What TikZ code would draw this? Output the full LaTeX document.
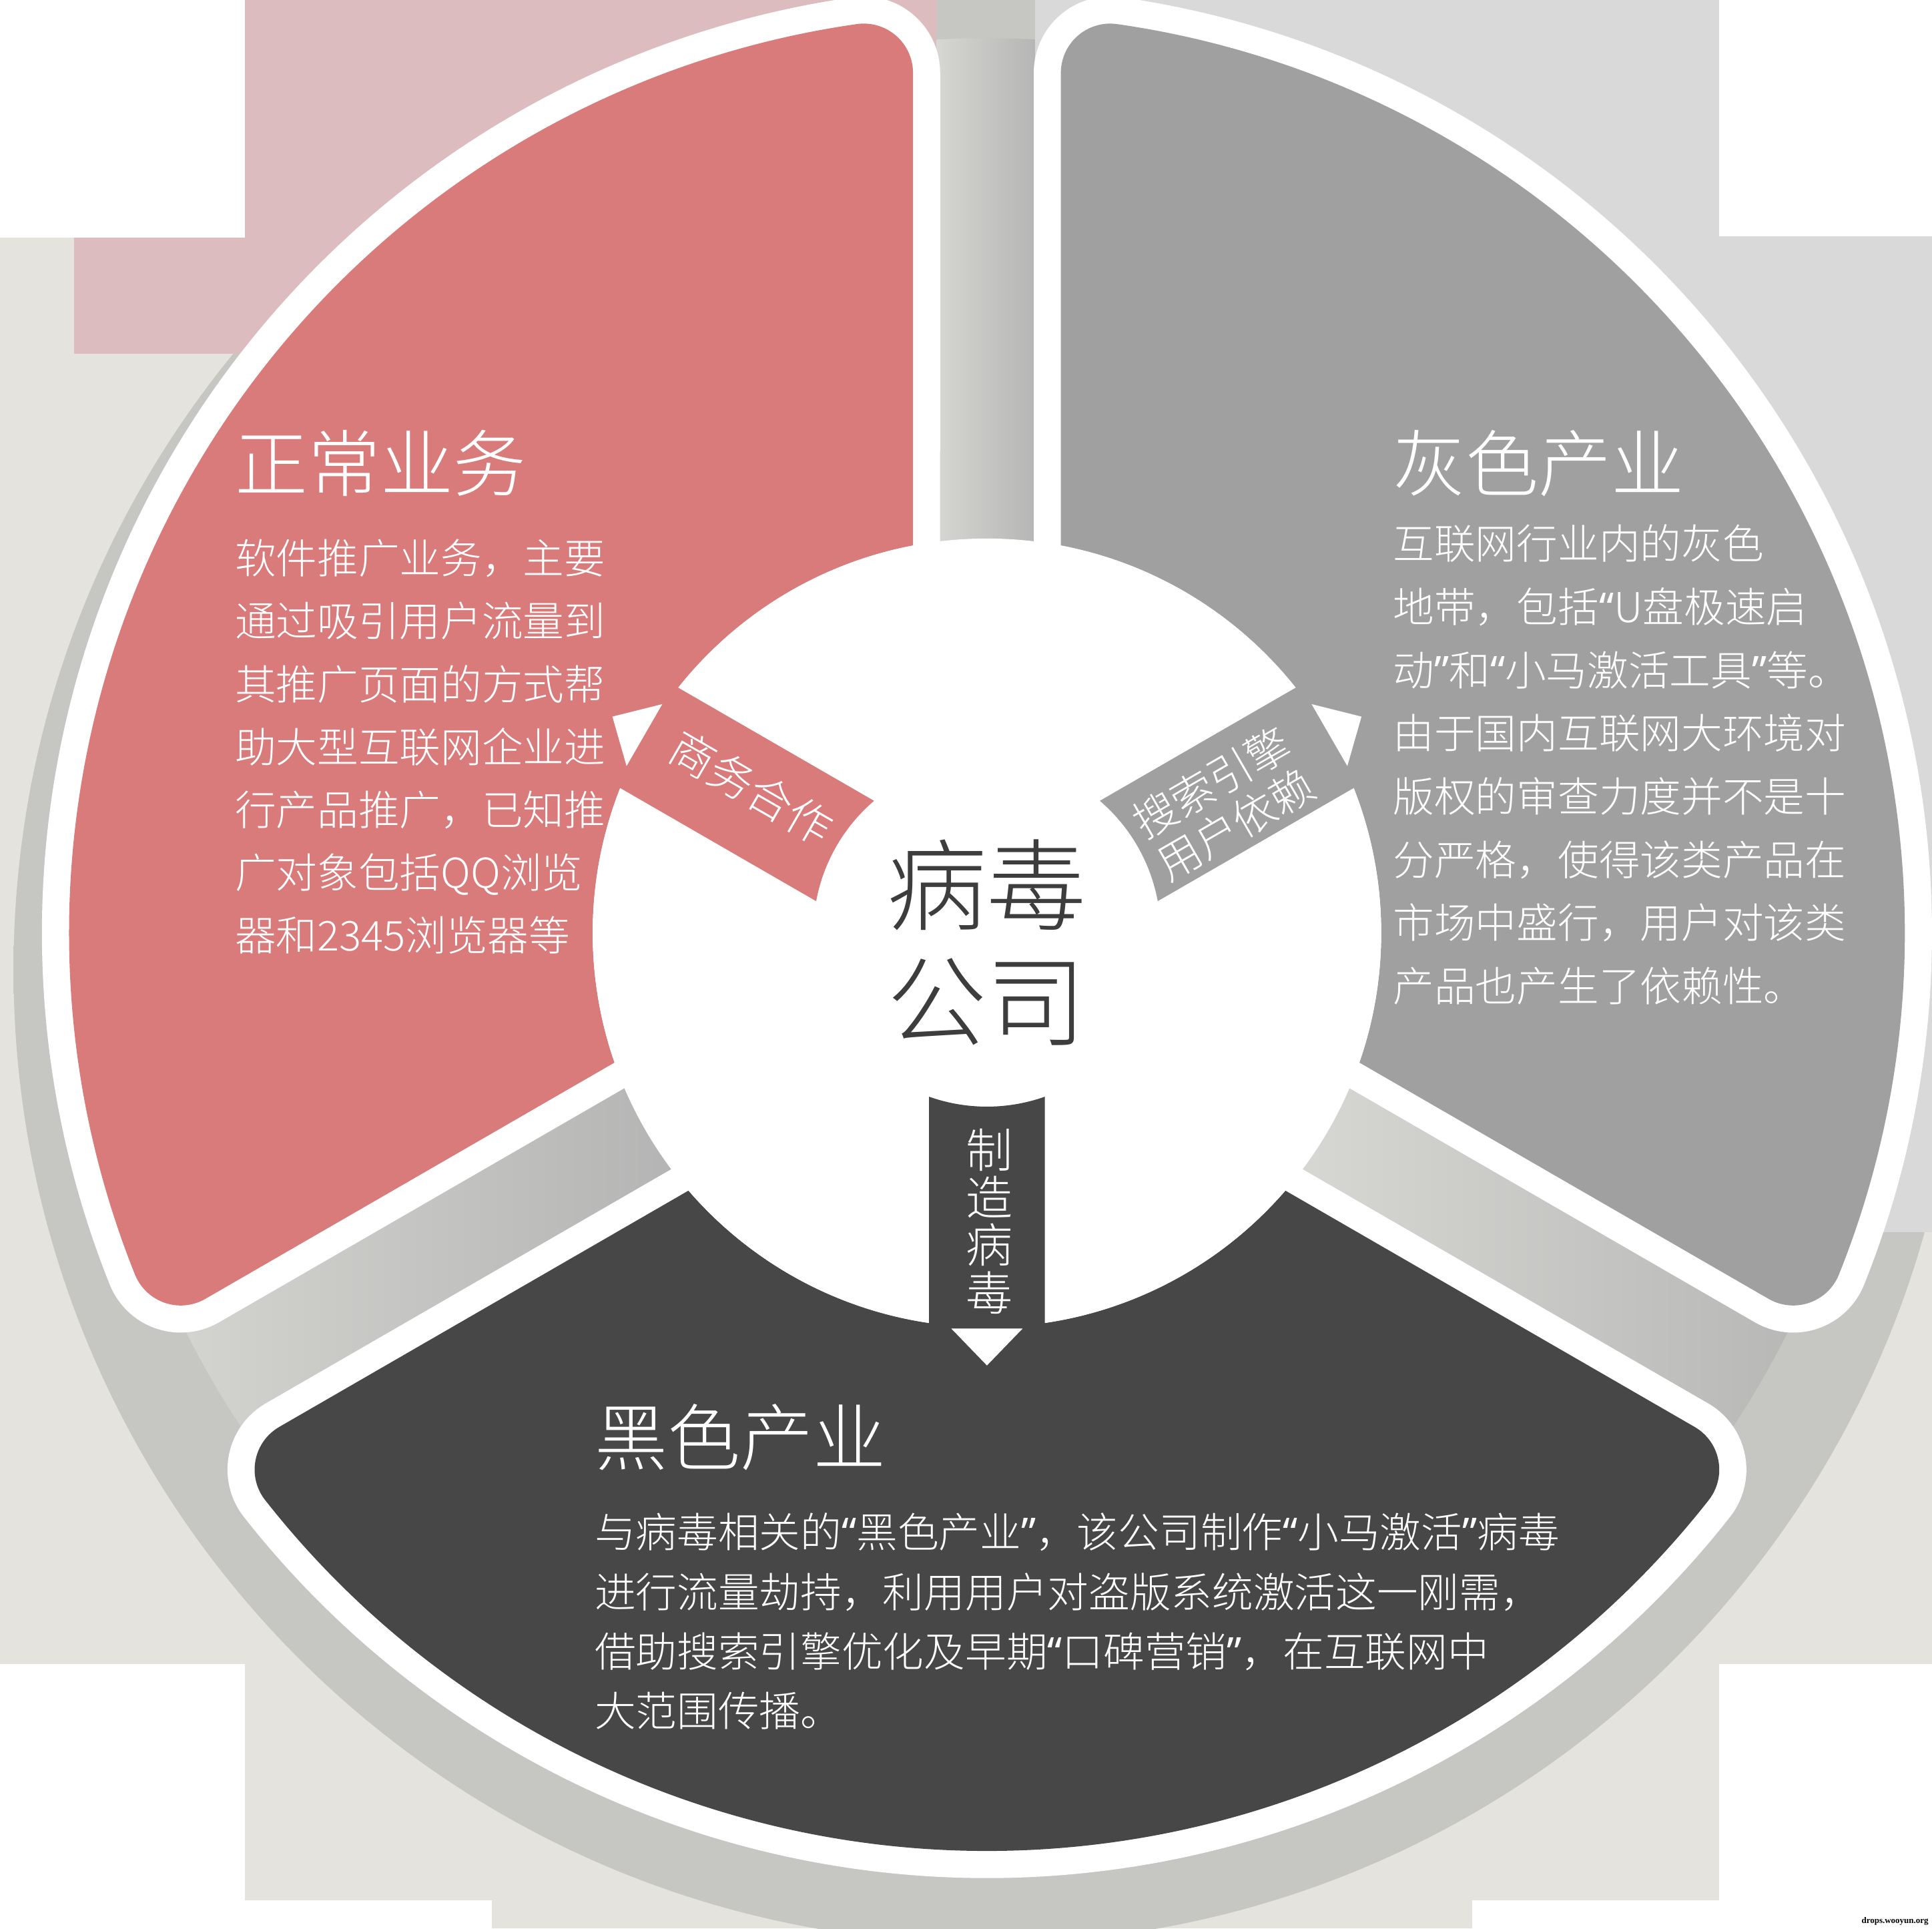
\documentclass[tikz,border=0pt]{standalone}
\usepackage{fontspec}
\setmainfont{Noto Sans CJK SC Light}
\newfontfamily\latq{Noto Sans}
\newfontfamily\wmfont{Liberation Serif}
\definecolor{segred}{HTML}{D97A7B}
\definecolor{seggrey}{HTML}{A0A0A0}
\definecolor{segdark}{HTML}{474747}
\definecolor{bgc}{HTML}{E5E3DE}
\definecolor{pinkbg}{HTML}{DCBCBF}
\definecolor{greybg}{HTML}{D9D9D9}
\definecolor{gapg}{HTML}{C6C6C3}
\definecolor{shg}{HTML}{B9B9B9}
\definecolor{gaplight}{HTML}{D8D8D4}
\definecolor{gapdark}{HTML}{B3B3B3}
\definecolor{ctext}{HTML}{3D3D3D}
\pgfdeclareradialshading{shadowdisk}{\pgfpointorigin}{color(0bp)=(gapg); color(47bp)=(gapg); color(48.4bp)=(shg); color(50bp)=(bgc)}
\newcommand\qo{{\latq “}}
\newcommand\qc{{\latq ”}}
\newcommand\segpath{(40.807:320) -- (34.914:700.44) arc[start angle=-60, end angle=38.155, radius=40] arc[start angle=38.155, end angle=141.845, radius=745] arc[start angle=141.845, end angle=240, radius=40] -- (139.193:320) arc[start angle=139.193, end angle=40.807, radius=320] -- cycle}
\newcommand\bandpath{(109.47:141) -- (98.07:335) -- (81.93:335) -- (70.53:141) arc[start angle=70.53, end angle=109.47, radius=141] -- cycle}
\newcommand\tippath{(-29,321) -- (29,321) -- (0,351) -- cycle}
\tikzset{
  segborder/.style={draw=white, line width=0.44cm, line join=round},
  gapshade/.style={left color=gaplight, right color=gapdark},
  body/.style={anchor=base west, inner sep=0pt, text=white, font=\fontsize{9.5pt}{14.5pt}\selectfont},
  head/.style={anchor=base west, inner sep=0pt, text=white, font=\fontsize{16.8pt}{20pt}\selectfont},
  ctr/.style={anchor=base, inner sep=0pt, text=ctext, font=\fontsize{23pt}{27pt}\selectfont},
  bandtext/.style={inner sep=0pt, text=white, align=center},
}
\begin{document}
\begin{tikzpicture}[x=0.01cm, y=0.01cm]
\useasboundingbox (0,0) rectangle (1568,1565);
\clip (0,0) rectangle (1568,1565);
% background
\fill[bgc] (0,0) rectangle (1568,1565);
\shade[shading=shadowdisk] (801,778) circle[radius=790];
% shaded gaps between the segments
\begin{scope}[shift={(801,808)}]
  \clip (0,0) circle[radius=726];
  \shade[gapshade] (-45,300) rectangle (45,800);
  \begin{scope}[rotate=120]\shade[gapshade] (-45,300) rectangle (45,800);\end{scope}
  \begin{scope}[rotate=240]\shade[gapshade] (-45,300) rectangle (45,800);\end{scope}
\end{scope}
\fill[pinkbg] (60,1278) rectangle (760,1565);
\fill[greybg] (840,1024) rectangle (1568,1565);
\fill[greybg] (1395,565) rectangle (1568,1373);
\fill[white] (0,1372) rectangle (199,1565);
\fill[white] (1395,1373) rectangle (1568,1565);
\fill[white] (0,0) rectangle (199,215);
\fill[white] (1395,0) rectangle (1568,215);
\fill[white] (199,0) rectangle (399,23);
\fill[white] (1195,0) rectangle (1395,23);
% segments
\begin{scope}[shift={(801,808)}, rotate=60]
  \draw[segborder] \segpath;
  \fill[segred] \segpath;
\end{scope}
\begin{scope}[shift={(801,808)}, rotate=-60]
  \draw[segborder] \segpath;
  \fill[seggrey] \segpath;
\end{scope}
\begin{scope}[shift={(801,808)}, rotate=180]
  \draw[segborder] \segpath;
  \fill[segdark] \segpath;
\end{scope}
% centre disk
\fill[white] (801,808) circle[radius=320];
% banners with arrow heads
\begin{scope}[shift={(801,808)}, rotate=60]
  \fill[segred] \bandpath;
  \fill[white] \tippath;
\end{scope}
\begin{scope}[shift={(801,808)}, rotate=-60]
  \fill[seggrey] \bandpath;
  \fill[white] \tippath;
\end{scope}
\begin{scope}[shift={(801,808)}, rotate=180]
  \fill[segdark] \bandpath;
  \fill[white] \tippath;
\end{scope}
% centre text
\node[ctr] (c1) at (801,816) {病毒};
\node[ctr] (c2) at (801,722) {公司};
% banner texts
\node[bandtext, rotate=-30, font=\fontsize{10.3pt}{11.4pt}\selectfont] (b1) at (610,926) {商务合作};
\node[bandtext, rotate=30, align=left, font=\fontsize{10pt}{11.1pt}\selectfont] (b2) at (993,913) {搜索引擎\\用户依赖};
\node[bandtext, font=\fontsize{10.8pt}{11pt}\selectfont] (b3) at (803,574) {制\\造\\病\\毒};
% headings
\node[head] (h1) at (190,1166.6) {正常业务};
\node[head] (h2) at (1130,1166.6) {灰色产业};
\node[head] (h3) at (482,376.6) {黑色产业};
% red body
\node[body] (r1) at (190,1099.3) {软件推广业务，主要};
\node[body] (r2) at (190,1048.3) {通过吸引用户流量到};
\node[body] (r3) at (190,997.3) {其推广页面的方式帮};
\node[body] (r4) at (190,946.3) {助大型互联网企业进};
\node[body] (r5) at (190,895.3) {行产品推广，已知推};
\node[body] (r6) at (190,844.3) {广对象包括QQ浏览};
\node[body] (r7) at (190,793.3) {器和2345浏览器等};
% grey body
\node[body] (g1) at (1130,1111.3) {互联网行业内的灰色};
\node[body] (g2) at (1130,1060) {地带，包括\qo U盘极速启};
\node[body] (g3) at (1130,1008.7) {动\qc 和\qo 小马激活工具\qc 等。};
\node[body] (g4) at (1130,957.4) {由于国内互联网大环境对};
\node[body] (g5) at (1130,906.1) {版权的审查力度并不是十};
\node[body] (g6) at (1130,854.8) {分严格，使得该类产品在};
\node[body] (g7) at (1130,803.5) {市场中盛行，用户对该类};
\node[body] (g8) at (1130,752.2) {产品也产生了依赖性。};
% dark body
\node[body] (d1) at (482,309.3) {与病毒相关的\qo 黑色产业\qc ，该公司制作\qo 小马激活\qc 病毒};
\node[body] (d2) at (482,260.3) {进行流量劫持，利用用户对盗版系统激活这一刚需，};
\node[body] (d3) at (482,212.3) {借助搜索引擎优化及早期\qo 口碑营销\qc ，在互联网中};
\node[body] (d4) at (482,164.3) {大范围传播。};
% watermark
\node[inner sep=0pt, font=\wmfont\bfseries\fontsize{2pt}{2pt}\selectfont] (wm) at (1538,6) {drops.wooyun.org};
\end{tikzpicture}
\end{document}
